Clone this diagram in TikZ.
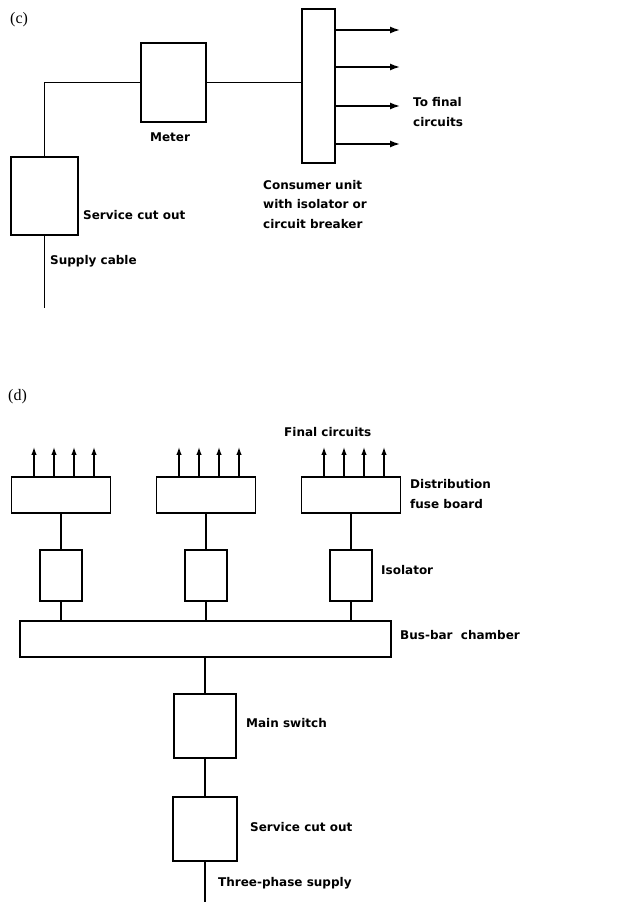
\documentclass[tikz,border=0pt]{standalone}
\usepackage{fontspec}
\setmainfont{DejaVu Sans}
\newfontfamily\partfont{Liberation Serif}
\usetikzlibrary{arrows.meta}
\tikzset{
  unit/.style={draw, line width=1.3pt, inner sep=0pt},
  lbl/.style={anchor=west, inner sep=0pt, align=left, font=\bfseries\fontsize{12}{19.5}\selectfont},
  part/.style={anchor=west, inner sep=0pt, font=\partfont\fontsize{16}{16}\selectfont},
  feed/.style={line width=1.1pt},
  outarrow/.style={line width=1.5pt, -{Latex[length=10pt,width=7pt]}},
  uparrow/.style={line width=1.3pt, -{Latex[length=8pt,width=5.5pt]}},
}
\begin{document}
\begin{tikzpicture}[x=1pt,y=1pt]
\useasboundingbox (0,0) rectangle (617,902);
% (c) single-phase intake
\node[part] (c) at (10,882) {(c)};
\node[unit, minimum width=67pt, minimum height=78pt] (cutout) at (44.5,706) {};
\node[unit, minimum width=65pt, minimum height=79pt] (meter) at (173.5,819.5) {};
\node[unit, minimum width=33pt, minimum height=154pt] (cu) at (318.5,816) {};
\coordinate (bend) at (cutout.north |- meter.west);
\coordinate (cable) at (44.5,594);
\draw[feed] (cutout.north) -- (bend) -- (meter.west);
\draw[feed] (meter.east) -- (meter.east -| cu.west);
\draw[feed] (cutout.south) -- (cable);
\foreach \y [count=\i] in {872,835,796,758}{
  \coordinate (fc\i) at (400,\y);
  \draw[outarrow] (cu.east |- fc\i) -- (fc\i);
}
\node[lbl, anchor=center] (meterlbl) at (170,765) {Meter};
\node[lbl] (finallbl) at (413,790) {To final\\circuits};
\node[lbl] (culbl) at (263,697.5) {Consumer unit\\with isolator or\\circuit breaker};
\node[lbl] (cutoutlbl) at (83,687) {Service cut out};
\node[lbl] (cablelbl) at (50,641) {Supply cable};

% (d) three-phase intake
\node[part] (d) at (8,505) {(d)};
\node[unit, minimum width=371pt, minimum height=36pt] (bus) at (205.5,263) {};
\foreach \x [count=\i] in {61,206,351}{
  \node[unit, minimum width=99pt, minimum height=36pt] (board\i) at (\x,407) {};
  \node[unit, minimum width=42pt, minimum height=51pt] (iso\i) at (\x,326.5) {};
  \draw[feed] (board\i.south) -- (iso\i.north);
  \draw[feed] (iso\i.south) -- (iso\i.south |- bus.north);
  \foreach \dx [count=\j] in {-27,-7,13,33}{
    \coordinate (tip\i\j) at (\x+\dx,455);
    \draw[uparrow] (board\i.north -| tip\i\j) -- (tip\i\j);
  }
}
\node[unit, minimum width=62pt, minimum height=64pt] (mainsw) at (205,176) {};
\node[unit, minimum width=64pt, minimum height=64pt] (cutout2) at (205,73) {};
\coordinate (supply) at (205,0);
\draw[feed] (bus.south -| mainsw.north) -- (mainsw.north);
\draw[feed] (mainsw.south) -- (cutout2.north);
\draw[feed] (cutout2.south) -- (supply);
\node[lbl] (fclbl) at (284,470) {Final circuits};
\node[lbl] (boardlbl) at (410,408) {Distribution\\fuse board};
\node[lbl] (isolbl) at (381,332) {Isolator};
\node[lbl] (buslbl) at (400,267) {Bus-bar\ \ chamber};
\node[lbl] (mainlbl) at (246,179) {Main switch};
\node[lbl] (cutout2lbl) at (250,75) {Service cut out};
\node[lbl] (supplylbl) at (218,19) {Three-phase supply};
\end{tikzpicture}
\end{document}
